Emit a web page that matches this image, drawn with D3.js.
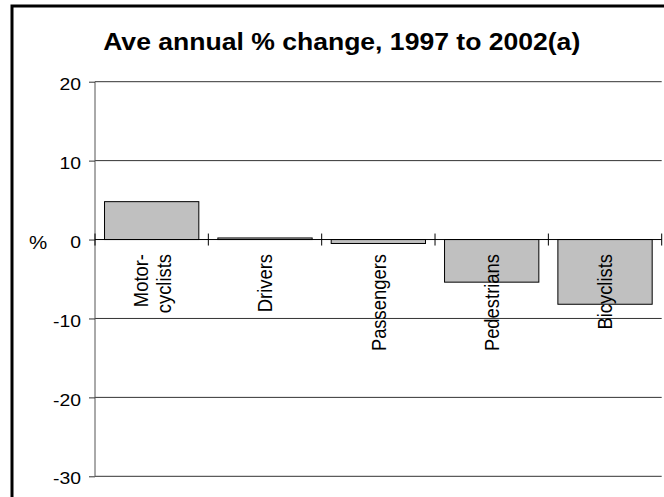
<!DOCTYPE html>
<html>
<head>
<meta charset="utf-8">
<script src="https://cdn.jsdelivr.net/npm/d3@7"></script>
<style>
  html, body { margin: 0; padding: 0; background: #fff; }
  svg { display: block; }
  text { font-family: "Liberation Sans", Arial, sans-serif; fill: #000; }
</style>
</head>
<body>
<svg id="chart" width="664" height="497"></svg>
<script>
const categories = [["Motor-", "cyclists"], ["Drivers"], ["Passengers"], ["Pedestrians"], ["Bicyclists"]];
const categoryKeys = ["Motorcyclists", "Drivers", "Passengers", "Pedestrians", "Bicyclists"];
const values = [4.8, 0.2, -0.5, -5.4, -8.2];
const yTicks = [20, 10, 0, -10, -20, -30];
const title = "Ave annual % change, 1997 to 2002(a)";
const yLabel = "%";

const plot = { left: 95, right: 661.7, top: 81.7, bottom: 476.3 };
const sx = 1.14; // horizontal stretch of the text in the reference

const svg = d3.select("#chart");

// outer frame (extends past right/bottom edges)
svg.append("rect")
  .attr("x", 12).attr("y", 6)
  .attr("width", 720).attr("height", 600)
  .attr("fill", "none").attr("stroke", "#000").attr("stroke-width", 3);

const x = d3.scaleBand()
  .domain(categoryKeys)
  .range([plot.left, plot.right])
  .paddingInner(0.168)
  .paddingOuter(0.084);

const y = d3.scaleLinear()
  .domain([-30, 20])
  .range([plot.bottom, plot.top]);

// title
svg.append("text")
  .attr("transform", `translate(341.7,50) scale(${sx},1)`)
  .attr("text-anchor", "middle")
  .attr("font-weight", "bold")
  .attr("font-size", "23.3px")
  .text(title);

// gridlines
svg.append("g")
  .selectAll("line")
  .data(yTicks.filter(d => d !== 0))
  .join("line")
  .attr("x1", plot.left).attr("x2", plot.right)
  .attr("y1", d => y(d)).attr("y2", d => y(d))
  .attr("stroke", "#333").attr("stroke-width", 1);

// y axis
const fmt = d => String(d);
const yAxis = d3.axisLeft(y).tickValues(yTicks).tickSize(6).tickFormat(fmt);
const gy = svg.append("g").attr("transform", `translate(${plot.left},0)`).call(yAxis);
gy.select(".domain").attr("stroke", "#555").attr("d", `M0,${plot.top}V${plot.bottom}`);
gy.selectAll(".tick line").attr("stroke", "#333");
gy.selectAll(".tick text").remove();
gy.selectAll(".tick").append("text")
  .attr("transform", `translate(-14,0) scale(${sx},1)`)
  .attr("text-anchor", "end")
  .attr("dy", "0.45em")
  .attr("font-size", "17px")
  .attr("fill", "#000")
  .text(fmt);

// bars
svg.append("g")
  .selectAll("rect")
  .data(values)
  .join("rect")
  .attr("x", (d, i) => x(categoryKeys[i]))
  .attr("width", x.bandwidth())
  .attr("y", d => y(Math.max(0, d)))
  .attr("height", d => Math.abs(y(d) - y(0)))
  .attr("fill", "#c0c0c0")
  .attr("stroke", "#000")
  .attr("stroke-width", 1);

// x axis at zero with boundary ticks crossing the line
svg.append("line")
  .attr("x1", plot.left).attr("x2", plot.right)
  .attr("y1", y(0)).attr("y2", y(0))
  .attr("stroke", "#000").attr("stroke-width", 1);
const boundaries = categoryKeys.map(k => x(k) - x.step() * x.paddingOuter()).concat([plot.right]);
svg.append("g")
  .selectAll("line")
  .data(boundaries)
  .join("line")
  .attr("x1", d => d).attr("x2", d => d)
  .attr("y1", y(0) - 6).attr("y2", y(0) + 6)
  .attr("stroke", "#000").attr("stroke-width", 1);

// category labels, rotated
const lh = 23;
const lab = svg.append("g")
  .selectAll("text")
  .data(categories)
  .join("text")
  .attr("transform", (d, i) => `translate(${x(categoryKeys[i]) + x.bandwidth() / 2},254) scale(${sx},1) rotate(-90)`)
  .attr("text-anchor", "end")
  .attr("font-size", "18.4px");
lab.each(function(lines) {
  const t = d3.select(this);
  const n = lines.length;
  lines.forEach((s, j) => {
    t.append("tspan")
      .attr("x", 0)
      .attr("y", (j - (n - 1) / 2) * lh / sx)
      .attr("dy", "0.35em")
      .text(s);
  });
});

// y label
svg.append("text")
  .attr("transform", `translate(38,${y(0)}) scale(${sx},1)`)
  .attr("text-anchor", "middle")
  .attr("dy", "0.55em")
  .attr("font-size", "18px")
  .text(yLabel);
</script>
</body>
</html>
